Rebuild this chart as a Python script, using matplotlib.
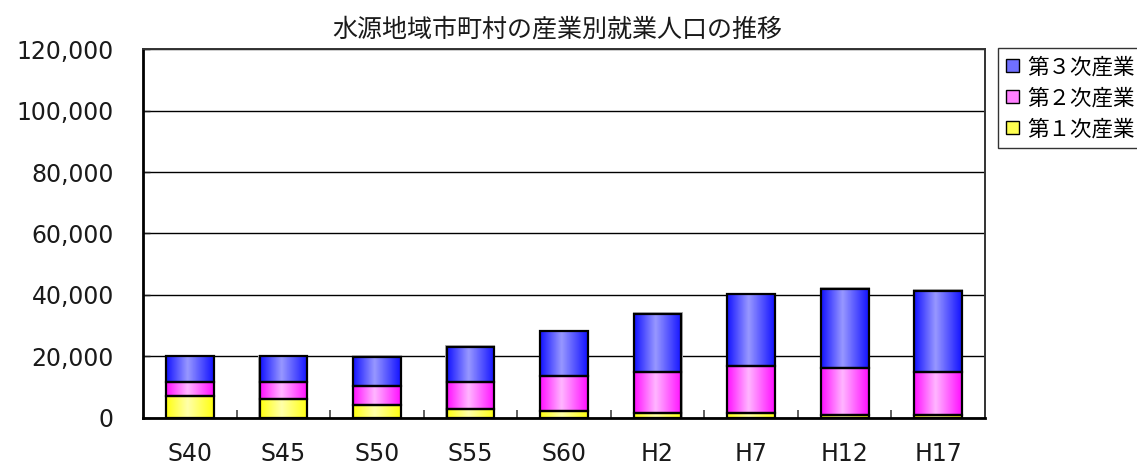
import numpy as np
import matplotlib
matplotlib.use('Agg')
import matplotlib.pyplot as plt
from matplotlib.patches import Rectangle, Patch
from matplotlib.colors import LinearSegmentedColormap
from matplotlib.ticker import FuncFormatter

plt.rcParams['font.family'] = ['DejaVu Sans', 'Noto Sans CJK JP']

# 年次と産業別の就業人口
years = ['S40', 'S45', 'S50', 'S55', 'S60', 'H2', 'H7', 'H12', 'H17']
primary = [7300, 6100, 4100, 2900, 2300, 1600, 1600, 1100, 1000]
secondary = [4430, 5610, 6300, 8800, 11300, 13400, 15200, 15000, 13850]
tertiary = [8270, 8300, 9500, 11400, 14650, 18900, 23400, 25950, 26500]

labels = ['第１次産業', '第２次産業', '第３次産業']
edge_cols = ['#ffff10', '#ff10ff', '#1414ff']
mid_cols = ['#ffffa8', '#ffb4ff', '#9696ff']
legend_cols = ['#ffff50', '#ff80ff', '#7070ff']

fig = plt.figure(figsize=(11.37, 4.65), dpi=100)
ax = fig.add_axes([0.1258, 0.1011, 0.7405, 0.7935])

width = 0.51
x = np.arange(len(years))
grad = np.linspace(0, 1, 64)
grad = np.where(grad < 0.45, grad / 0.45, (1 - grad) / 0.55)
grad = grad.reshape(1, -1)

bottom = np.zeros(len(years))
for vals, c0, c1 in zip([primary, secondary, tertiary], edge_cols, mid_cols):
    cmap = LinearSegmentedColormap.from_list('g', [c0, c1])
    for i, v in enumerate(vals):
        x0 = x[i] - width / 2
        ax.imshow(grad, cmap=cmap, aspect='auto', interpolation='bilinear',
                  extent=(x0, x0 + width, bottom[i], bottom[i] + v), zorder=3)
        ax.add_patch(Rectangle((x0, bottom[i]), width, v, fill=False,
                               edgecolor='black', lw=1.6, zorder=4))
    bottom += np.array(vals)

# 棒の影
for i, total in enumerate(bottom):
    ax.add_patch(Rectangle((x[i] - width / 2 - 0.012, 0), width + 0.024, total + 500,
                           facecolor='#b0b0b0', edgecolor='none', zorder=2.5))

ax.set_xlim(-0.5, len(years) - 0.5)
ax.set_ylim(0, 120000)
ax.set_yticks(np.arange(0, 120001, 20000))
ax.yaxis.set_major_formatter(FuncFormatter(lambda v, p: f'{int(v):,}'))
ax.grid(axis='y', color='black', lw=1, zorder=1)
ax.set_axisbelow(True)

ax.set_xticks(x)
ax.set_xticklabels(years)
ax.set_xticks(np.arange(0.5, len(years) - 0.5, 1), minor=True)
ax.tick_params(axis='x', which='major', length=0, pad=17, labelsize=17, colors='#1a1a1a')
ax.tick_params(axis='x', which='minor', direction='in', length=6, width=1.2, color='#444444')
ax.tick_params(axis='y', direction='in', length=5, width=1, pad=21, labelsize=17,
               colors='#1a1a1a')

for s in ['left', 'bottom']:
    ax.spines[s].set_linewidth(2)
for s in ['top', 'right']:
    ax.spines[s].set_linewidth(1.4)
    ax.spines[s].set_color('#333333')

fig.text(0.49, 0.937, '水源地域市町村の産業別就業人口の推移', ha='center', va='center',
         fontsize=18, family=['Noto Sans CJK JP'], color='#1a1a1a')

handles = [Patch(facecolor=legend_cols[k], edgecolor='black', lw=1, label=labels[k])
           for k in [2, 1, 0]]
leg = fig.legend(handles=handles, loc='upper left', bbox_to_anchor=(0.878, 0.897),
                 frameon=True, fancybox=False, prop={'family': 'Noto Sans CJK JP', 'size': 15.5},
                 handlelength=0.6, handleheight=0.6, handletextpad=0.35,
                 labelspacing=0.42, borderpad=0.38, borderaxespad=0)
leg.get_frame().set_edgecolor('black')
leg.get_frame().set_linewidth(1)

fig.savefig('out.png', dpi=100)
